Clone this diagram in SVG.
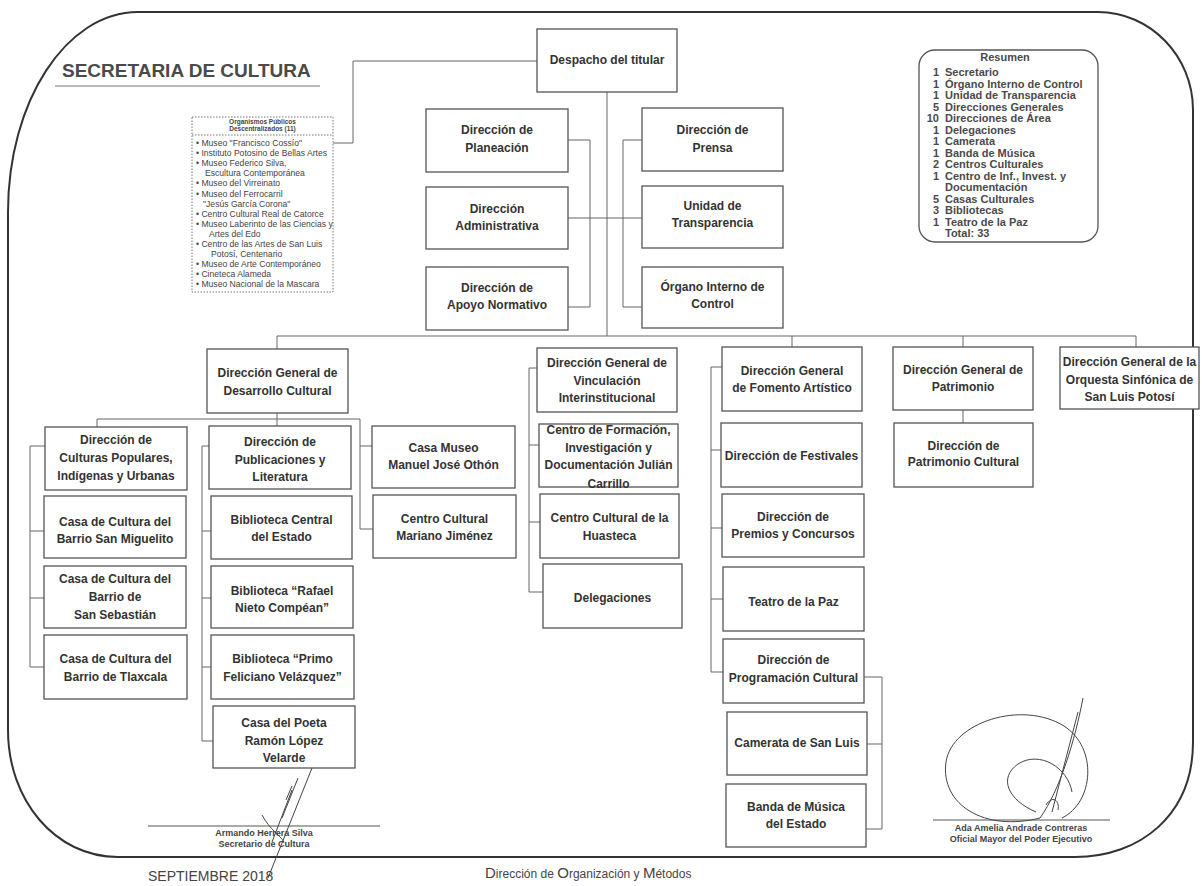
<svg xmlns="http://www.w3.org/2000/svg" width="1202" height="886" viewBox="0 0 1202 886">
<style>
.box{fill:#fff;stroke:#555;stroke-width:1.3}
.lbl{font-family:"Liberation Sans",Arial,sans-serif;font-weight:bold;font-size:12px;fill:#333;text-anchor:middle}
.conn{fill:none;stroke:#666;stroke-width:1}
.org{font-family:"Liberation Sans",Arial,sans-serif;font-size:8.6px;fill:#444}
.orgh{font-family:"Liberation Sans",Arial,sans-serif;font-size:6.5px;font-weight:bold;fill:#444;text-anchor:middle}
.res{font-family:"Liberation Sans",Arial,sans-serif;font-size:11px;font-weight:bold;fill:#4a4a4a}
.sig{font-family:"Liberation Sans",Arial,sans-serif;font-size:9px;font-weight:bold;fill:#444;text-anchor:middle}
.foot{font-family:"Liberation Sans",Arial,sans-serif;fill:#444}
.scr{fill:none;stroke:#444;stroke-width:1}
</style>
<rect width="1202" height="886" fill="#fff"/>
<path d="M 138 12 L 1098 12 C 1150 12 1193 56 1193 110 L 1193 742 C 1193 815 1140 857 1075 857 L 118 857 C 55 857 8 800 8 730 L 8 212 C 8 101.6 66.2 12 138 12 Z" fill="none" stroke="#333" stroke-width="2"/>
<g id="title">
<text x="62" y="77" style="font-family:'Liberation Sans',Arial,sans-serif;font-size:19px;font-weight:bold;fill:#4a4a4a">SECRETARIA DE CULTURA</text>
<line x1="55" y1="86" x2="320" y2="86" stroke="#777" stroke-width="1.2"/>
</g>
<g id="connectors">
<polyline class="conn" points="537,61 353,61 353,143 333,143"/>
<line class="conn" x1="607" y1="92" x2="607" y2="336"/>
<polyline class="conn" points="568,140 590,140 590,307 568,307"/>
<polyline class="conn" points="642,140 623,140 623,307 642,307"/>
<line class="conn" x1="568" y1="218" x2="642" y2="218"/>
<line class="conn" x1="277" y1="336" x2="1136" y2="336"/>
<line class="conn" x1="277" y1="336" x2="277" y2="349"/>
<line class="conn" x1="792" y1="336" x2="792" y2="347"/>
<line class="conn" x1="963" y1="336" x2="963" y2="347"/>
<line class="conn" x1="1136" y1="336" x2="1136" y2="347"/>
<line class="conn" x1="277" y1="413" x2="277" y2="426"/>
<polyline class="conn" points="97,427 97,419 360,419 360,529 373,529"/>
<line class="conn" x1="360" y1="446" x2="372" y2="446"/>
<polyline class="conn" points="45,446 30,446 30,667 44,667"/>
<line class="conn" x1="30" y1="531" x2="44" y2="531"/>
<line class="conn" x1="30" y1="598" x2="44" y2="598"/>
<polyline class="conn" points="209,446 202,446 202,741 213,741"/>
<line class="conn" x1="202" y1="531" x2="211" y2="531"/>
<line class="conn" x1="202" y1="598" x2="211" y2="598"/>
<line class="conn" x1="202" y1="667" x2="211" y2="667"/>
<polyline class="conn" points="537,368 529,368 529,592 543,592"/>
<line class="conn" x1="529" y1="445" x2="539" y2="445"/>
<line class="conn" x1="529" y1="522" x2="540" y2="522"/>
<polyline class="conn" points="722,367 711,367 711,672 723,672"/>
<line class="conn" x1="711" y1="450" x2="721" y2="450"/>
<line class="conn" x1="711" y1="528" x2="722" y2="528"/>
<line class="conn" x1="711" y1="599" x2="723" y2="599"/>
<polyline class="conn" points="864,677 882,677 882,829 866,829"/>
<line class="conn" x1="867" y1="744" x2="882" y2="744"/>
<line class="conn" x1="963" y1="410" x2="963" y2="423"/>
</g>
<g id="organismos">
<rect x="192" y="117" width="141" height="175" fill="#fff" stroke="#777" stroke-width="1" stroke-dasharray="1.5,1.5"/>
<line x1="192" y1="135" x2="333" y2="135" stroke="#777" stroke-width="1" stroke-dasharray="1.5,1.5"/>
<text class="orgh" x="262.5" y="124">Organismos Públicos</text>
<text class="orgh" x="262.5" y="130.5">Descentralizados (11)</text>
<text class="org" x="196" y="146">• Museo "Francisco Cossío"</text>
<text class="org" x="196" y="156.1">• Instituto Potosino de Bellas Artes</text>
<text class="org" x="196" y="166.2">• Museo Federico Silva,</text>
<text class="org" x="205" y="176.3">Escultura Contemporánea</text>
<text class="org" x="196" y="186.4">• Museo del Virreinato</text>
<text class="org" x="196" y="196.5">• Museo del Ferrocarril</text>
<text class="org" x="203" y="206.6">"Jesús García Corona"</text>
<text class="org" x="196" y="216.7">• Centro Cultural Real de Catorce</text>
<text class="org" x="196" y="226.8">• Museo Laberinto de las Ciencias y</text>
<text class="org" x="209" y="236.9">Artes del Edo</text>
<text class="org" x="196" y="247">• Centro de las Artes de San Luis</text>
<text class="org" x="211" y="257.1">Potosí, Centenario</text>
<text class="org" x="196" y="267.2">• Museo de Arte Contemporáneo</text>
<text class="org" x="196" y="277.3">• Cineteca Alameda</text>
<text class="org" x="196" y="287.4">• Museo Nacional de la Mascara</text>
</g>
<g id="resumen">
<rect x="919" y="50" width="179" height="192" rx="16" fill="#fff" stroke="#555" stroke-width="1.3"/>
<text class="res" x="1005" y="61" text-anchor="middle">Resumen</text>
<g class="res" text-anchor="end">
<text x="939" y="76">1</text><text x="939" y="87.5">1</text><text x="939" y="99">1</text><text x="939" y="110.5">5</text><text x="939" y="122">10</text><text x="939" y="133.5">1</text><text x="939" y="145">1</text><text x="939" y="156.5">1</text><text x="939" y="168">2</text><text x="939" y="179.5">1</text><text x="939" y="202.5">5</text><text x="939" y="214">3</text><text x="939" y="225.5">1</text>
</g>
<g class="res">
<text x="945" y="76">Secretario</text>
<text x="945" y="87.5">Órgano Interno de Control</text>
<text x="945" y="99">Unidad de Transparencia</text>
<text x="945" y="110.5">Direcciones Generales</text>
<text x="945" y="122">Direcciones de Área</text>
<text x="945" y="133.5">Delegaciones</text>
<text x="945" y="145">Camerata</text>
<text x="945" y="156.5">Banda de Música</text>
<text x="945" y="168">Centros Culturales</text>
<text x="945" y="179.5">Centro de Inf., Invest. y</text>
<text x="945" y="191">Documentación</text>
<text x="945" y="202.5">Casas Culturales</text>
<text x="945" y="214">Bibliotecas</text>
<text x="945" y="225.5">Teatro de la Paz</text>
<text x="945" y="237">Total: 33</text>
</g>
</g>
<g id="despacho"><rect class="box" x="537" y="29" width="140" height="63"/><text class="lbl" x="607" y="64">Despacho del titular</text></g>
<g id="planeacion"><rect class="box" x="426" y="109" width="142" height="63"/><text class="lbl" x="497" y="134">Dirección de</text><text class="lbl" x="497" y="151.5">Planeación</text></g>
<g id="administrativa"><rect class="box" x="426" y="187" width="142" height="62"/><text class="lbl" x="497" y="212.5">Dirección</text><text class="lbl" x="497" y="230">Administrativa</text></g>
<g id="apoyo"><rect class="box" x="426" y="267" width="142" height="63"/><text class="lbl" x="497" y="291.5">Dirección de</text><text class="lbl" x="497" y="309">Apoyo Normativo</text></g>
<g id="prensa"><rect class="box" x="642" y="108" width="141" height="63"/><text class="lbl" x="712.5" y="134">Dirección de</text><text class="lbl" x="712.5" y="151.5">Prensa</text></g>
<g id="transparencia"><rect class="box" x="642" y="186" width="141" height="62"/><text class="lbl" x="712.5" y="209.5">Unidad de</text><text class="lbl" x="712.5" y="227">Transparencia</text></g>
<g id="organo"><rect class="box" x="642" y="267" width="141" height="61"/><text class="lbl" x="712.5" y="290.5">Órgano Interno de</text><text class="lbl" x="712.5" y="308">Control</text></g>
<g id="desarrollo"><rect class="box" x="207" y="349" width="141" height="64"/><text class="lbl" x="277.5" y="377">Dirección General de</text><text class="lbl" x="277.5" y="395">Desarrollo Cultural</text></g>
<g id="vinculacion"><rect class="box" x="537" y="348" width="140" height="64"/><text class="lbl" x="607" y="367">Dirección General de</text><text class="lbl" x="607" y="385">Vinculación</text><text class="lbl" x="607" y="402">Interinstitucional</text></g>
<g id="fomento"><rect class="box" x="722" y="347" width="140" height="64"/><text class="lbl" x="792" y="375">Dirección General</text><text class="lbl" x="792" y="392">de Fomento Artístico</text></g>
<g id="patrimonio"><rect class="box" x="893" y="347" width="140" height="63"/><text class="lbl" x="963" y="374">Dirección General de</text><text class="lbl" x="963" y="391">Patrimonio</text></g>
<g id="orquesta"><rect class="box" x="1060" y="347" width="139" height="62"/><text class="lbl" x="1129.5" y="366">Dirección General de la</text><text class="lbl" x="1129.5" y="384">Orquesta Sinfónica de</text><text class="lbl" x="1129.5" y="401">San Luis Potosí</text></g>
<g id="culturas"><rect class="box" x="45" y="427" width="142" height="63"/><text class="lbl" x="116" y="444">Dirección de</text><text class="lbl" x="116" y="462">Culturas Populares,</text><text class="lbl" x="116" y="480">Indígenas y Urbanas</text></g>
<g id="miguelito"><rect class="box" x="44" y="496" width="142" height="62"/><text class="lbl" x="115" y="526">Casa de Cultura del</text><text class="lbl" x="115" y="543">Barrio San Miguelito</text></g>
<g id="sebastian"><rect class="box" x="44" y="566" width="142" height="62"/><text class="lbl" x="115" y="583">Casa de Cultura del</text><text class="lbl" x="115" y="601">Barrio de</text><text class="lbl" x="115" y="619">San Sebastián</text></g>
<g id="tlaxcala"><rect class="box" x="44" y="635" width="143" height="64"/><text class="lbl" x="115.5" y="663">Casa de Cultura del</text><text class="lbl" x="115.5" y="681">Barrio de Tlaxcala</text></g>
<g id="publicaciones"><rect class="box" x="209" y="426" width="142" height="63"/><text class="lbl" x="280" y="446">Dirección de</text><text class="lbl" x="280" y="464">Publicaciones y</text><text class="lbl" x="280" y="481">Literatura</text></g>
<g id="bib-central"><rect class="box" x="211" y="496" width="141" height="63"/><text class="lbl" x="281.5" y="524">Biblioteca Central</text><text class="lbl" x="281.5" y="541">del Estado</text></g>
<g id="bib-rafael"><rect class="box" x="211" y="566" width="142" height="62"/><text class="lbl" x="282" y="595">Biblioteca “Rafael</text><text class="lbl" x="282" y="612">Nieto Compéan”</text></g>
<g id="bib-primo"><rect class="box" x="211" y="635" width="143" height="64"/><text class="lbl" x="282.5" y="663">Biblioteca “Primo</text><text class="lbl" x="282.5" y="681">Feliciano Velázquez”</text></g>
<g id="poeta"><rect class="box" x="213" y="706" width="142" height="62"/><text class="lbl" x="284" y="727">Casa del Poeta</text><text class="lbl" x="284" y="745">Ramón López</text><text class="lbl" x="284" y="762">Velarde</text></g>
<g id="casa-museo"><rect class="box" x="372" y="426" width="143" height="62"/><text class="lbl" x="443.5" y="452">Casa Museo</text><text class="lbl" x="443.5" y="469">Manuel José Othón</text></g>
<g id="mariano"><rect class="box" x="373" y="495" width="143" height="63"/><text class="lbl" x="444.5" y="523">Centro Cultural</text><text class="lbl" x="444.5" y="540">Mariano Jiménez</text></g>
<g id="formacion"><rect class="box" x="539" y="424" width="139" height="63"/><text class="lbl" x="608.5" y="434">Centro de Formación,</text><text class="lbl" x="608.5" y="452">Investigación y</text><text class="lbl" x="608.5" y="469">Documentación Julián</text><text class="lbl" x="608.5" y="488">Carrillo</text></g>
<g id="huasteca"><rect class="box" x="540" y="494" width="139" height="64"/><text class="lbl" x="609.5" y="522">Centro Cultural de la</text><text class="lbl" x="609.5" y="540">Huasteca</text></g>
<g id="delegaciones"><rect class="box" x="543" y="564" width="139" height="64"/><text class="lbl" x="612.5" y="602">Delegaciones</text></g>
<g id="festivales"><rect class="box" x="721" y="423" width="141" height="64"/><text class="lbl" x="791.5" y="460">Dirección de Festivales</text></g>
<g id="premios"><rect class="box" x="722" y="494" width="142" height="63"/><text class="lbl" x="793" y="521">Dirección de</text><text class="lbl" x="793" y="538">Premios y Concursos</text></g>
<g id="teatro"><rect class="box" x="723" y="567" width="141" height="64"/><text class="lbl" x="793.5" y="606">Teatro de la Paz</text></g>
<g id="programacion"><rect class="box" x="723" y="639" width="141" height="64"/><text class="lbl" x="793.5" y="664">Dirección de</text><text class="lbl" x="793.5" y="682">Programación Cultural</text></g>
<g id="camerata"><rect class="box" x="727" y="712" width="140" height="63"/><text class="lbl" x="797" y="747">Camerata de San Luis</text></g>
<g id="banda"><rect class="box" x="726" y="784" width="140" height="63"/><text class="lbl" x="796" y="811">Banda de Música</text><text class="lbl" x="796" y="828">del Estado</text></g>
<g id="patrimonio-cultural"><rect class="box" x="894" y="423" width="139" height="64"/><text class="lbl" x="963.5" y="450">Dirección de</text><text class="lbl" x="963.5" y="466">Patrimonio Cultural</text></g>
<g id="firmas">
<line x1="148" y1="826" x2="380" y2="826" stroke="#555" stroke-width="1"/>
<text class="sig" x="264" y="836">Armando Herrera Silva</text>
<text class="sig" x="264" y="847">Secretario de Cultura</text>
<path class="scr" d="M 268 878 L 312 768 M 272 842 L 292 790 M 282 818 L 298 778 M 262 815 C 270 830 280 835 284 842 M 286 800 L 292 786"/>
<line x1="933" y1="820" x2="1110" y2="820" stroke="#555" stroke-width="1"/>
<text class="sig" x="1021" y="831">Ada Amelia Andrade Contreras</text>
<text class="sig" x="1021" y="842">Oficial Mayor del Poder Ejecutivo</text>
<path class="scr" d="M 1083 698 C 1075 740 1060 790 1040 818 M 1040 818 C 985 832 940 805 946 762 C 952 722 1022 700 1064 726 C 1098 748 1094 802 1062 818 M 1036 812 C 1008 800 998 778 1018 764 C 1040 750 1068 768 1072 792 M 1078 712 L 1052 812 M 1046 805 C 1052 795 1060 800 1058 810"/>
</g>
<g id="pie">
<text class="foot" x="148" y="881" style="font-size:14px">SEPTIEMBRE 2018</text>
<text class="foot" x="485" y="878" style="font-size:12px"><tspan style="font-size:15px">D</tspan>irección de <tspan style="font-size:15px">O</tspan>rganización y <tspan style="font-size:15px">M</tspan>étodos</text>
</g>
</svg>
